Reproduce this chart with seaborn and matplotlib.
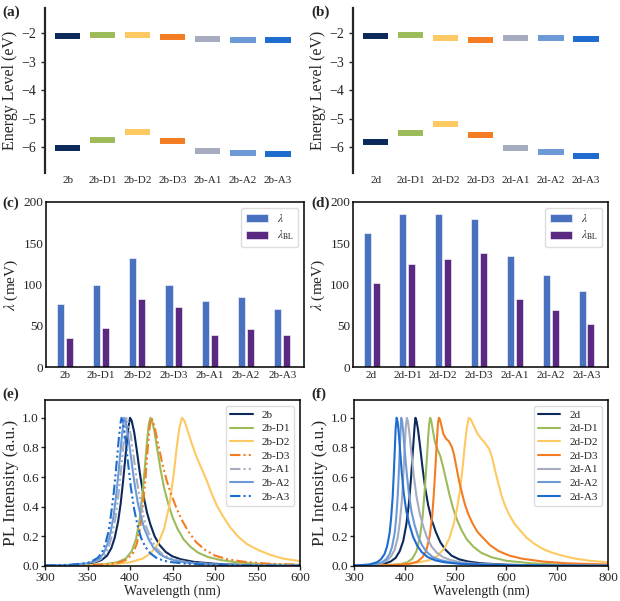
import numpy as np
import pandas as pd
import matplotlib
matplotlib.use("Agg")
import matplotlib.pyplot as plt
import seaborn as sns

# ---- data ----
names_b = ["2b", "2b-D1", "2b-D2", "2b-D3", "2b-A1", "2b-A2", "2b-A3"]
names_d = ["2d", "2d-D1", "2d-D2", "2d-D3", "2d-A1", "2d-A2", "2d-A3"]

lumo_b = [-2.10, -2.05, -2.07, -2.12, -2.20, -2.23, -2.24]
homo_b = [-6.02, -5.74, -5.45, -5.76, -6.14, -6.19, -6.24]
lumo_d = [-2.09, -2.04, -2.15, -2.22, -2.15, -2.18, -2.21]
homo_d = [-5.80, -5.50, -5.18, -5.57, -6.03, -6.16, -6.32]

lam_b = [76, 99, 132, 100, 80, 85, 70]
lam_bl_b = [35, 47, 83, 73, 39, 46, 39]
lam_d = [162, 185, 185, 180, 134, 111, 92]
lam_bl_d = [102, 125, 131, 138, 83, 69, 52]

# PL spectra, panel (e)
wl_2b = [300, 330, 350, 360, 367, 373, 378, 382, 386, 389, 392, 395, 398, 400, 402, 405, 408, 412, 416, 420, 424, 429, 435, 442, 450, 460, 475, 500, 530, 560, 600]
pl_2b = [0.003, 0.006, 0.014, 0.026, 0.042, 0.07, 0.12, 0.19, 0.30, 0.42, 0.58, 0.76, 0.93, 1.0, 0.98, 0.90, 0.78, 0.61, 0.47, 0.36, 0.28, 0.20, 0.14, 0.095, 0.065, 0.045, 0.028, 0.015, 0.008, 0.005, 0.003]
wl_2b_d1 = [300, 340, 370, 385, 395, 402, 407, 411, 414, 417, 420, 422, 424, 426, 429, 432, 436, 440, 445, 450, 456, 463, 471, 480, 492, 507, 525, 550, 575, 600]
pl_2b_d1 = [0.002, 0.005, 0.012, 0.025, 0.05, 0.10, 0.18, 0.30, 0.45, 0.63, 0.84, 0.95, 1.0, 0.98, 0.90, 0.79, 0.65, 0.53, 0.42, 0.33, 0.25, 0.18, 0.13, 0.09, 0.06, 0.04, 0.025, 0.015, 0.01, 0.007]
wl_2b_d2 = [300, 350, 380, 400, 415, 425, 433, 440, 446, 451, 455, 458, 461, 464, 468, 473, 478, 484, 490, 496, 502, 510, 518, 527, 537, 550, 565, 580, 600]
pl_2b_d2 = [0.002, 0.005, 0.012, 0.025, 0.05, 0.09, 0.15, 0.25, 0.40, 0.60, 0.80, 0.93, 1.0, 0.98, 0.91, 0.82, 0.74, 0.66, 0.58, 0.49, 0.41, 0.33, 0.26, 0.20, 0.15, 0.11, 0.075, 0.05, 0.033]
wl_2b_d3 = [300, 340, 370, 385, 395, 403, 408, 412, 415, 418, 421, 423, 425, 427, 430, 434, 438, 443, 448, 454, 461, 469, 478, 488, 500, 515, 535, 560, 580, 600]
pl_2b_d3 = [0.002, 0.004, 0.01, 0.02, 0.04, 0.08, 0.15, 0.26, 0.40, 0.58, 0.80, 0.93, 1.0, 0.98, 0.91, 0.80, 0.69, 0.58, 0.49, 0.40, 0.31, 0.23, 0.16, 0.11, 0.07, 0.045, 0.028, 0.017, 0.012, 0.009]
wl_2b_a1 = [300, 330, 350, 360, 366, 371, 375, 379, 383, 386, 389, 392, 394, 396, 398, 401, 404, 408, 412, 416, 420, 425, 431, 438, 446, 456, 470, 495, 530, 560, 600]
pl_2b_a1 = [0.003, 0.007, 0.016, 0.03, 0.048, 0.08, 0.13, 0.21, 0.33, 0.46, 0.62, 0.80, 0.93, 1.0, 0.97, 0.88, 0.75, 0.58, 0.44, 0.33, 0.25, 0.18, 0.12, 0.08, 0.055, 0.038, 0.024, 0.013, 0.007, 0.004, 0.003]
wl_2b_a2 = [300, 330, 350, 358, 364, 369, 373, 377, 381, 384, 387, 390, 392, 393, 395, 398, 401, 405, 409, 413, 417, 422, 428, 435, 443, 453, 467, 490, 525, 560, 600]
pl_2b_a2 = [0.003, 0.008, 0.018, 0.032, 0.05, 0.085, 0.14, 0.22, 0.35, 0.49, 0.66, 0.85, 0.96, 1.0, 0.97, 0.87, 0.74, 0.57, 0.43, 0.33, 0.25, 0.18, 0.12, 0.08, 0.055, 0.037, 0.023, 0.013, 0.007, 0.004, 0.003]
wl_2b_a3 = [300, 330, 350, 356, 362, 367, 371, 375, 378, 381, 384, 387, 389, 390, 392, 395, 398, 401, 405, 409, 413, 418, 424, 431, 440, 450, 465, 490, 525, 560, 600]
pl_2b_a3 = [0.003, 0.008, 0.02, 0.035, 0.055, 0.09, 0.15, 0.24, 0.36, 0.50, 0.68, 0.87, 0.97, 1.0, 0.96, 0.84, 0.68, 0.53, 0.38, 0.27, 0.19, 0.13, 0.085, 0.055, 0.035, 0.025, 0.016, 0.01, 0.005, 0.003, 0.002]

# PL spectra, panel (f)
wl_2d = [300, 340, 360, 372, 382, 390, 397, 403, 408, 412, 416, 419, 421, 423, 426, 430, 435, 440, 446, 453, 461, 470, 480, 492, 507, 525, 550, 600, 650, 700, 800]
pl_2d = [0.002, 0.006, 0.015, 0.03, 0.055, 0.10, 0.17, 0.28, 0.42, 0.58, 0.78, 0.93, 1.0, 0.98, 0.92, 0.81, 0.66, 0.53, 0.41, 0.31, 0.23, 0.16, 0.11, 0.07, 0.045, 0.03, 0.018, 0.009, 0.005, 0.004, 0.002]
wl_2d_d1 = [300, 360, 390, 405, 415, 423, 430, 435, 439, 443, 446, 448, 450, 452, 455, 459, 464, 470, 476, 482, 488, 495, 503, 512, 522, 535, 550, 570, 600, 650, 700, 800]
pl_2d_d1 = [0.002, 0.005, 0.012, 0.025, 0.05, 0.10, 0.20, 0.33, 0.50, 0.70, 0.87, 0.96, 1.0, 0.98, 0.92, 0.84, 0.79, 0.74, 0.66, 0.57, 0.48, 0.39, 0.31, 0.24, 0.18, 0.13, 0.09, 0.06, 0.035, 0.018, 0.01, 0.005]
wl_2d_d2 = [300, 380, 420, 450, 465, 478, 488, 496, 503, 509, 514, 518, 522, 526, 530, 535, 542, 550, 558, 566, 572, 578, 584, 590, 597, 605, 615, 627, 640, 655, 672, 690, 710, 735, 765, 800]
pl_2d_d2 = [0.003, 0.008, 0.02, 0.04, 0.07, 0.12, 0.19, 0.28, 0.39, 0.52, 0.67, 0.81, 0.93, 1.0, 0.99, 0.95, 0.90, 0.86, 0.83, 0.79, 0.73, 0.64, 0.56, 0.48, 0.41, 0.35, 0.29, 0.24, 0.19, 0.15, 0.115, 0.09, 0.07, 0.05, 0.035, 0.025]
wl_2d_d3 = [300, 380, 410, 425, 435, 442, 449, 454, 457, 460, 463, 465, 467, 469, 472, 476, 481, 487, 493, 497, 502, 507, 512, 518, 525, 533, 543, 554, 568, 585, 606, 630, 672, 720, 800]
pl_2d_d3 = [0.002, 0.006, 0.015, 0.03, 0.06, 0.10, 0.20, 0.34, 0.48, 0.65, 0.84, 0.95, 1.0, 0.99, 0.95, 0.89, 0.86, 0.84, 0.80, 0.75, 0.66, 0.57, 0.50, 0.42, 0.35, 0.29, 0.23, 0.19, 0.14, 0.10, 0.07, 0.05, 0.03, 0.018, 0.01]
wl_2d_a1 = [300, 340, 355, 365, 373, 380, 386, 390, 394, 397, 400, 402, 404, 406, 409, 413, 418, 423, 429, 436, 444, 453, 463, 475, 490, 510, 540, 600, 700, 800]
pl_2d_a1 = [0.002, 0.008, 0.02, 0.037, 0.065, 0.11, 0.19, 0.29, 0.43, 0.60, 0.82, 0.94, 1.0, 0.98, 0.90, 0.76, 0.60, 0.47, 0.36, 0.27, 0.19, 0.13, 0.09, 0.06, 0.04, 0.025, 0.015, 0.007, 0.003, 0.002]
wl_2d_a2 = [300, 340, 355, 363, 370, 375, 380, 383, 386, 388, 390, 392, 393, 395, 397, 400, 404, 408, 413, 419, 426, 434, 443, 455, 470, 490, 520, 580, 700, 800]
pl_2d_a2 = [0.002, 0.01, 0.025, 0.045, 0.08, 0.13, 0.22, 0.32, 0.47, 0.61, 0.78, 0.94, 1.0, 0.97, 0.90, 0.77, 0.62, 0.49, 0.37, 0.28, 0.20, 0.14, 0.095, 0.06, 0.04, 0.025, 0.015, 0.007, 0.003, 0.002]
wl_2d_a3 = [300, 330, 345, 353, 360, 365, 370, 373, 376, 378, 380, 382, 384, 386, 388, 391, 394, 398, 403, 409, 416, 424, 433, 445, 460, 480, 510, 570, 700, 800]
pl_2d_a3 = [0.003, 0.01, 0.025, 0.045, 0.08, 0.13, 0.22, 0.32, 0.46, 0.60, 0.76, 0.93, 1.0, 0.97, 0.90, 0.77, 0.63, 0.49, 0.37, 0.28, 0.20, 0.14, 0.095, 0.06, 0.038, 0.024, 0.014, 0.007, 0.003, 0.002]

# ---- style ----
colors = ["#0b2a5b", "#9dbb59", "#fdc962", "#f47c22", "#a5acc0", "#6d9ad6", "#1e6ccf"]
bar_colors = ["#4a70c0", "#5a2a82"]
dashdotdot = (0, (5, 1.5, 1, 1.5, 1, 1.5))

sns.set_style("ticks")
plt.rcParams["font.family"] = ["Liberation Serif", "DejaVu Serif"]
plt.rcParams["mathtext.fontset"] = "stix"

fig = plt.figure(figsize=(6.2, 6.01), dpi=100)


def add_ax(l, t, r, b):
    return fig.add_axes([l / 620, 1 - b / 601, (r - l) / 620, (b - t) / 601])


ax_a = add_ax(45, 8, 300, 173)
ax_b = add_ax(353, 8, 608, 173)
ax_c = add_ax(46, 202, 304, 367)
ax_d = add_ax(353, 202, 608, 367)
ax_e = add_ax(45, 400, 300, 566)
ax_f = add_ax(354, 400, 608, 566)


def energy_panel(ax, names, lumo, homo):
    x = np.arange(len(names))
    ax.hlines(lumo, x - 0.36, x + 0.36, colors=colors, lw=4.3)
    ax.hlines(homo, x - 0.36, x + 0.36, colors=colors, lw=4.3)
    ax.set_xlim(-0.65, 6.63)
    ax.set_ylim(-6.9, -1.11)
    ax.set_xticks(x, names, fontsize=8)
    ax.set_yticks([-2, -3, -4, -5, -6])
    ax.tick_params(axis="x", length=0, pad=2)
    ax.tick_params(axis="y", labelsize=10, length=3, width=1)
    for s in ["top", "right", "bottom"]:
        ax.spines[s].set_visible(False)
    ax.spines["left"].set_linewidth(1.6)
    ax.set_ylabel("Energy Level (eV)", fontsize=11.5, labelpad=2)


def bar_panel(ax, names, lam, lam_bl):
    df = pd.DataFrame({
        "name": names * 2,
        "value": lam + lam_bl,
        "kind": [r"$\lambda$"] * len(names) + [r"$\lambda_{\rm BL}$"] * len(names),
    })
    sns.barplot(data=df, x="name", y="value", hue="kind", palette=bar_colors, saturation=1,
                width=0.5, gap=0.22, edgecolor="white", linewidth=0.4, ax=ax)
    ax.set_xlim(-0.52, 6.6)
    ax.set_ylim(0, 200)
    ax.set_yticks([0, 50, 100, 150, 200])
    ax.set_xlabel("")
    ax.set_ylabel(r"$\lambda$ (meV)", fontsize=11, labelpad=2)
    ax.tick_params(axis="x", labelsize=8, length=0, pad=3)
    ax.tick_params(axis="y", labelsize=9.5, length=0, pad=2)
    for s in ax.spines.values():
        s.set_linewidth(1.1)
        s.set_color("black")
    ax.legend(loc="upper right", fontsize=8, labelspacing=0.45, handlelength=2.0,
              frameon=True, fancybox=True, framealpha=1, edgecolor="#dddddd")


def pl_panel(ax, names, spectra, styles, xmax, xticks):
    for name, (wl, pl), c, ls in zip(names, spectra, colors, styles):
        sns.lineplot(x=wl, y=pl, ax=ax, color=c, linestyle=ls, lw=1.5, label=name)
    ax.set_xlim(300, xmax)
    ax.set_ylim(0, 1.12)
    ax.set_xticks(xticks)
    ax.set_yticks([0.0, 0.2, 0.4, 0.6, 0.8, 1.0])
    ax.set_xlabel("Wavelength (nm)", fontsize=10, labelpad=0)
    ax.set_ylabel("PL Intensity (a.u.)", fontsize=12.5, labelpad=2)
    ax.tick_params(labelsize=9.5, length=3, width=1, pad=1.5)
    for s in ax.spines.values():
        s.set_linewidth(1.1)
        s.set_color("black")
    ax.legend(loc="upper right", fontsize=8, labelspacing=0.35, handlelength=2.0,
              frameon=True, fancybox=True, framealpha=1, edgecolor="#dddddd")


energy_panel(ax_a, names_b, lumo_b, homo_b)
energy_panel(ax_b, names_d, lumo_d, homo_d)
bar_panel(ax_c, names_b, lam_b, lam_bl_b)
bar_panel(ax_d, names_d, lam_d, lam_bl_d)

spectra_b = [(wl_2b, pl_2b), (wl_2b_d1, pl_2b_d1), (wl_2b_d2, pl_2b_d2), (wl_2b_d3, pl_2b_d3),
             (wl_2b_a1, pl_2b_a1), (wl_2b_a2, pl_2b_a2), (wl_2b_a3, pl_2b_a3)]
spectra_d = [(wl_2d, pl_2d), (wl_2d_d1, pl_2d_d1), (wl_2d_d2, pl_2d_d2), (wl_2d_d3, pl_2d_d3),
             (wl_2d_a1, pl_2d_a1), (wl_2d_a2, pl_2d_a2), (wl_2d_a3, pl_2d_a3)]
styles_e = ["-", "-", "-", dashdotdot, dashdotdot, "-", dashdotdot]
styles_f = ["-"] * 7
pl_panel(ax_e, names_b, spectra_b, styles_e, 600, [300, 350, 400, 450, 500, 550, 600])
pl_panel(ax_f, names_d, spectra_d, styles_f, 800, [300, 400, 500, 600, 700, 800])

for lab, x, y in [("(a)", 2, 12), ("(b)", 311, 12), ("(c)", 2, 203),
                  ("(d)", 311, 203), ("(e)", 2, 394), ("(f)", 311, 394)]:
    fig.text(x / 620, 1 - y / 601, lab, fontsize=11, fontweight="bold", va="center", ha="left")

fig.savefig("out.png", dpi=100)
